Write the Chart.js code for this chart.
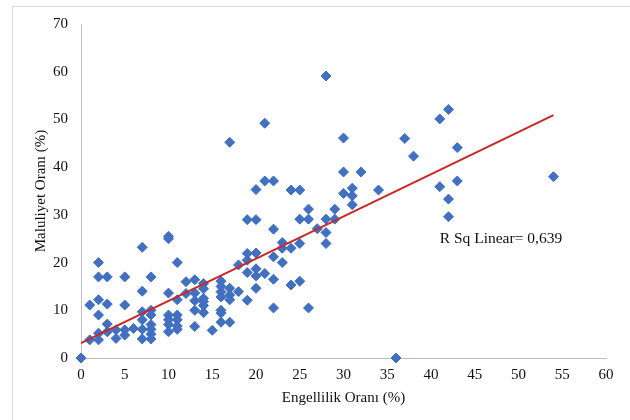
<!DOCTYPE html>
<html>
<head>
<meta charset="utf-8">
<script src="https://cdn.jsdelivr.net/npm/chart.js@4"></script>
<style>
  body { margin: 0; background: #fff; }
  #wrap { position: relative; width: 630px; height: 420px; overflow: hidden; }
  #frame { position: absolute; left: 12px; top: 6px; width: 640px; height: 440px; border: 1px solid #d9d9d9; }
  #myChart { position: absolute; left: 0; top: 0; }
</style>
</head>
<body>
<div id="wrap">
  <div id="frame"></div>
  <canvas id="myChart" width="630" height="420"></canvas>
</div>
<script>
// Engellilik (x) ve maluliyet (y) oranları, her nokta bir vaka
let engellilik = [
    0, 1, 1,
    2, 2, 2, 2, 2, 2,
    3, 3, 3, 3,
    4, 4,
    5, 5, 5, 5,
    6,
    7, 7, 7, 7, 7, 7,
    8, 8, 8, 8, 8, 8, 8,
    10, 10, 10, 10, 10, 10, 10,
    11, 11, 11, 11, 11, 11,
    12, 12,
    13, 13, 13, 13, 13,
    14, 14, 14, 14, 14, 14,
    15,
    16, 16, 16, 16, 16, 16, 16,
    17, 17, 17, 17, 17,
    18, 18,
    19, 19, 19, 19, 19,
    20, 20, 20, 20, 20, 20,
    21, 21, 21,
    22, 22, 22, 22, 22,
    23, 23, 23,
    24, 24, 24,
    25, 25, 25, 25,
    26, 26, 26,
    27,
    28, 28, 28, 28,
    29, 29,
    30, 30, 30,
    31, 31, 31,
    32, 34, 36, 37, 38,
    41, 41,
    42, 42, 42,
    43, 43,
    54
];
let maluliyet = [
    0, 3.8, 11.1,
    20, 17, 12.2, 9, 5.2, 3.8,
    17, 11.3, 7.1, 5.5,
    5.9, 4.1,
    17, 11.1, 5.9, 4.8,
    6.2,
    23.2, 14, 9.7, 8, 6, 4,
    17, 10, 9, 7, 6, 5, 4,
    25.5, 25, 13.6, 9, 8, 7, 5.5,
    20, 12.2, 9, 8, 6.7, 6,
    16, 13.5,
    16.4, 13.6, 12, 10, 6.6,
    15.6, 14.5, 12.5, 11.8, 11, 9.5,
    5.8,
    16.1, 15, 13.9, 12.8, 10, 9.4, 7.5,
    45.2, 14.6, 13.2, 12.2, 7.5,
    19.5, 13.9,
    29, 21.9, 20.5, 17.9, 12.1,
    35.3, 29, 22, 18.7, 17.2, 14.6,
    49.2, 37.1, 17.7,
    37.1, 27, 21.2, 16.5, 10.5,
    24.2, 23, 20,
    35.2, 23, 15.3,
    35.2, 29.1, 24, 16.1,
    31.2, 29.1, 10.5,
    27.1,
    59.1, 29.1, 26.3, 24,
    31.2, 29.1,
    46.1, 39, 34.5,
    35.6, 34, 32.1,
    39, 35.2, 0, 46, 42.3,
    50.1, 35.9,
    52.1, 33.3, 29.6,
    44.1, 37.1,
    38
];

// Doğrusal uyum çizgisinin uç noktaları
let trendX = [0, 54];
let trendY = [3.1, 50.9];

let xTicks = { min: 0, max: 60, step: 5 };
let yTicks = { min: 0, max: 70, step: 10 };

let rSqText = 'R Sq Linear= 0,639';
let rSqAt = [41, 24.9];

let textColor = '#111';
let axisColor = '#bfbfbf';
let serif = { family: '"Liberation Serif", "Times New Roman", serif', size: 15 };

let points = engellilik.map((v, i) => ({ x: v, y: maluliyet[i] }));
let trend = trendX.map((v, i) => ({ x: v, y: trendY[i] }));

let rSqLabel = {
    id: 'rSqLabel',
    afterDatasetsDraw(chart) {
        let ctx = chart.ctx;
        let x = chart.scales.x.getPixelForValue(rSqAt[0]);
        let y = chart.scales.y.getPixelForValue(rSqAt[1]);
        ctx.save();
        ctx.font = '15.5px "Liberation Serif", "Times New Roman", serif';
        ctx.fillStyle = textColor;
        ctx.textAlign = 'left';
        ctx.textBaseline = 'middle';
        ctx.fillText(rSqText, x, y);
        ctx.restore();
    }
};

let ctx = document.getElementById('myChart').getContext('2d');

let myChart = new Chart(ctx, {
    type: 'scatter',
    data: {
        datasets: [{
            label: 'Uyum',
            data: trend,
            showLine: true,
            borderColor: '#c82828',
            borderWidth: 2,
            pointRadius: 0,
            fill: false,
            order: 0
        }, {
            label: 'Vakalar',
            data: points,
            pointStyle: 'rectRot',
            pointRadius: 5,
            pointBorderWidth: 1,
            backgroundColor: '#4170c0',
            borderColor: '#4170c0',
            clip: false,
            order: 1
        }]
    },
    options: {
        responsive: false,
        animation: false,
        layout: { padding: { left: 0, top: 24, right: 24, bottom: 0 } },
        plugins: {
            legend: { display: false },
            tooltip: { enabled: false }
        },
        scales: {
            x: {
                type: 'linear',
                min: xTicks.min,
                max: xTicks.max,
                afterFit(scale) { scale.height = 62; },
                ticks: { stepSize: xTicks.step, padding: 8, color: textColor, font: serif },
                grid: { display: false, drawTicks: false },
                border: { color: axisColor, width: 1 },
                title: {
                    display: true,
                    text: 'Engellilik Oranı (%)',
                    color: textColor,
                    font: serif,
                    padding: { top: 0, bottom: 13 }
                }
            },
            y: {
                type: 'linear',
                min: yTicks.min,
                max: yTicks.max,
                afterFit(scale) { scale.width = 81; },
                ticks: { stepSize: yTicks.step, padding: 13, color: textColor, font: serif },
                grid: { display: false, drawTicks: false },
                border: { color: axisColor, width: 1 },
                title: {
                    display: true,
                    text: 'Maluliyet Oranı (%)',
                    color: textColor,
                    font: serif,
                    padding: { top: 32, bottom: 0 }
                }
            }
        }
    },
    plugins: [rSqLabel]
});
</script>
</body>
</html>
